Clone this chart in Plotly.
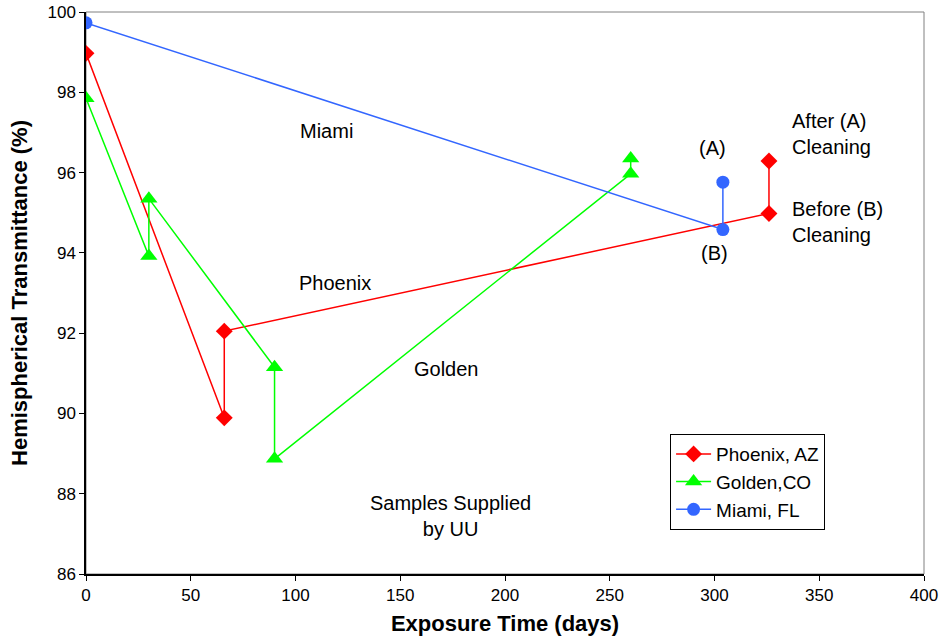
import plotly.graph_objects as go

phoenix_x = [0, 66, 66, 326, 326]
phoenix_y = [98.97, 89.89, 92.05, 94.98, 96.29]
golden_x = [0, 30, 30, 90, 90, 260, 260]
golden_y = [97.85, 93.92, 95.35, 91.15, 88.87, 95.97, 96.35]
miami_x = [0, 304, 304]
miami_y = [99.73, 94.58, 95.76]

FONT = "Liberation Sans, Arial, sans-serif"

fig = go.Figure()
fig.add_trace(go.Scatter(x=phoenix_x, y=phoenix_y, name="Phoenix, AZ", mode="lines+markers",
                         line=dict(color="#ff0000", width=1.5),
                         marker=dict(symbol="diamond", size=13, color="#ff0000")))
fig.add_trace(go.Scatter(x=golden_x, y=golden_y, name="Golden,CO", mode="lines+markers",
                         line=dict(color="#00ff00", width=1.5),
                         marker=dict(symbol="triangle-up", size=15, color="#00ff00")))
fig.add_trace(go.Scatter(x=miami_x, y=miami_y, name="Miami, FL", mode="lines+markers",
                         line=dict(color="#3366ff", width=1.5),
                         marker=dict(symbol="circle", size=13, color="#3366ff")))

annos = [
    (115, 97.04, "Miami", "center"),
    (119, 93.25, "Phoenix", "center"),
    (172, 91.10, "Golden", "center"),
    (174, 87.44, "Samples Supplied<br>by UU", "center"),
    (299, 96.62, "(A)", "center"),
    (300, 94.0, "(B)", "center"),
    (336, 96.97, "After (A)<br>Cleaning", "left"),
    (336, 94.77, "Before (B)<br>Cleaning", "left"),
]
for x, y, t, a in annos:
    fig.add_annotation(x=x, y=y, text=t, showarrow=False, xanchor=a, yanchor="middle",
                       align=a, font=dict(family=FONT, size=20, color="black"))

fig.update_layout(
    width=945, height=641,
    margin=dict(l=86, r=21, t=12, b=67),
    paper_bgcolor="white", plot_bgcolor="white",
    font=dict(family=FONT, size=17, color="black"),
    showlegend=True,
    legend=dict(x=0.697, y=0.249, xanchor="left", yanchor="top",
                bordercolor="black", borderwidth=1, bgcolor="white",
                font=dict(family=FONT, size=19), tracegroupgap=0, itemwidth=35),
    shapes=[dict(type="rect", xref="paper", yref="paper", x0=0, y0=0, x1=1, y1=1,
                 line=dict(color="#808080", width=1), layer="below")],
)
fig.update_xaxes(range=[0, 400], tickmode="array", tickvals=[0, 50, 100, 150, 200, 250, 300, 350, 400],
                 ticks="outside", ticklen=5, tickcolor="black", showline=True, linecolor="black",
                 linewidth=1.5, showgrid=False, zeroline=False, automargin=False,
                 title=dict(text="<b>Exposure Time (days)</b>", font=dict(family=FONT, size=22), standoff=11),
                 tickfont=dict(family=FONT, size=17))
fig.update_yaxes(range=[86, 100], tickmode="array", tickvals=[86, 88, 90, 92, 94, 96, 98, 100],
                 ticks="outside", ticklen=5, tickcolor="black", showline=True, linecolor="black",
                 linewidth=1.5, showgrid=False, zeroline=False, automargin=False,
                 title=dict(text="<b>Hemispherical Transmittance (%)</b>", font=dict(family=FONT, size=22), standoff=14),
                 tickfont=dict(family=FONT, size=17))

fig.write_html("out.html")
